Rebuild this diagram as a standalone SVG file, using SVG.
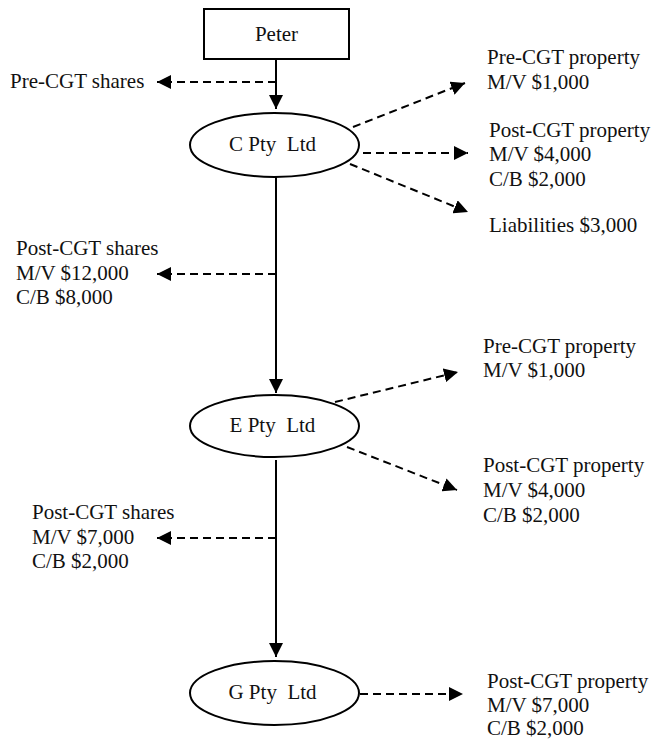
<svg xmlns="http://www.w3.org/2000/svg" width="654" height="740" viewBox="0 0 654 740">
<style>
  .t { font-family: "Liberation Serif", "Times New Roman", serif; font-size: 21px; fill: #111; }
  .c { text-anchor: middle; }
  .shape { fill: #fff; stroke: #000; stroke-width: 2; }
  .solid { stroke: #000; stroke-width: 2; fill: none; }
  .dash { stroke: #000; stroke-width: 2; fill: none; stroke-dasharray: 8 5; }
</style>
<defs>
  <marker id="arr" viewBox="0 0 14 14" refX="14" refY="7" markerWidth="14" markerHeight="14" orient="auto" markerUnits="userSpaceOnUse">
    <path d="M0,0 L14,7 L0,14 z" fill="#000"/>
  </marker>
</defs>
<rect width="654" height="740" fill="#fff"/>

<g id="connectors">
  <line class="solid" x1="276" y1="59" x2="276" y2="109" marker-end="url(#arr)"/>
  <line class="dash" x1="276" y1="82" x2="157" y2="82" marker-end="url(#arr)"/>
  <line class="solid" x1="276" y1="177" x2="276" y2="393" marker-end="url(#arr)"/>
  <line class="dash" x1="276" y1="274" x2="157" y2="274" marker-end="url(#arr)"/>
  <line class="dash" x1="353" y1="127" x2="465" y2="83" marker-end="url(#arr)"/>
  <line class="dash" x1="363" y1="153" x2="468" y2="153" marker-end="url(#arr)"/>
  <line class="dash" x1="350" y1="164" x2="468" y2="212" marker-end="url(#arr)"/>
  <line class="solid" x1="276" y1="460" x2="276" y2="657" marker-end="url(#arr)"/>
  <line class="dash" x1="276" y1="538" x2="157" y2="538" marker-end="url(#arr)"/>
  <line class="dash" x1="335" y1="402" x2="458" y2="372" marker-end="url(#arr)"/>
  <line class="dash" x1="347" y1="447" x2="457" y2="490" marker-end="url(#arr)"/>
  <line class="dash" x1="360" y1="694" x2="463" y2="694" marker-end="url(#arr)"/>
</g>

<g id="peter">
  <rect class="shape" x="204" y="9" width="145" height="50"/>
  <text class="t c" x="276.5" y="41">Peter</text>
</g>

<g id="c-pty">
  <ellipse class="shape" cx="274.5" cy="145" rx="84.5" ry="32"/>
  <text class="t c" x="272.5" y="151" xml:space="preserve">C Pty  Ltd</text>
</g>

<g id="e-pty">
  <ellipse class="shape" cx="274.5" cy="426" rx="84.5" ry="31"/>
  <text class="t c" x="272.5" y="432" xml:space="preserve">E Pty  Ltd</text>
</g>

<g id="g-pty">
  <ellipse class="shape" cx="274.5" cy="693" rx="84.5" ry="32"/>
  <text class="t c" x="272.5" y="699" xml:space="preserve">G Pty  Ltd</text>
</g>

<g id="pre-cgt-shares">
  <text class="t" x="10" y="88">Pre-CGT shares</text>
</g>

<g id="c-pre-property">
  <text class="t" x="487" y="64">Pre-CGT property</text>
  <text class="t" x="487" y="89">M/V $1,000</text>
</g>

<g id="c-post-property">
  <text class="t" x="489" y="137">Post-CGT property</text>
  <text class="t" x="489" y="161">M/V $4,000</text>
  <text class="t" x="489" y="186">C/B $2,000</text>
</g>

<g id="c-liabilities">
  <text class="t" x="489" y="232">Liabilities $3,000</text>
</g>

<g id="e-post-shares">
  <text class="t" x="16" y="255">Post-CGT shares</text>
  <text class="t" x="16" y="280">M/V $12,000</text>
  <text class="t" x="16" y="304">C/B $8,000</text>
</g>

<g id="e-pre-property">
  <text class="t" x="483" y="353">Pre-CGT property</text>
  <text class="t" x="483" y="377">M/V $1,000</text>
</g>

<g id="e-post-property">
  <text class="t" x="483" y="472">Post-CGT property</text>
  <text class="t" x="483" y="497">M/V $4,000</text>
  <text class="t" x="483" y="522">C/B $2,000</text>
</g>

<g id="g-post-shares">
  <text class="t" x="32" y="519">Post-CGT shares</text>
  <text class="t" x="32" y="544">M/V $7,000</text>
  <text class="t" x="32" y="568">C/B $2,000</text>
</g>

<g id="g-post-property">
  <text class="t" x="487" y="688">Post-CGT property</text>
  <text class="t" x="487" y="712">M/V $7,000</text>
  <text class="t" x="487" y="735">C/B $2,000</text>
</g>
</svg>
